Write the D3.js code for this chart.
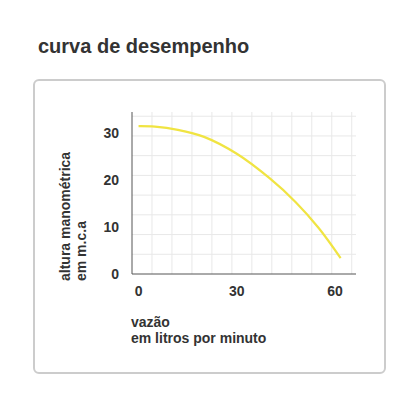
<!DOCTYPE html>
<html><head><meta charset="utf-8">
<script src="https://cdn.jsdelivr.net/npm/d3@7"></script>
<style>body{margin:0;background:#fff;font-family:"Liberation Sans",Arial,sans-serif}</style>
</head><body>
<script>
// curve
const flow = [0, 5, 12, 20, 30, 40, 48, 55, 61.7];
const head = [31.5, 31.4, 30.7, 29.2, 25.6, 20.4, 15.3, 9.8, 3.4];
const xTicks = [0, 30, 60];
const yTicks = [0, 10, 20, 30];
const xGrid = d3.range(-2 + 6.1, 66, 6.1);
const yGrid = d3.range(4.2, 34.6, 4.2);

const svg = d3.select("body").append("svg").attr("width", 420).attr("height", 420);

svg.append("text").attr("x", 38).attr("y", 53)
    .attr("font-size", 20).attr("font-weight", "bold").attr("fill", "#333")
    .text("curva de desempenho");

svg.append("rect").attr("x", 34).attr("y", 80).attr("width", 351).attr("height", 293)
    .attr("rx", 5).attr("fill", "#fff").attr("stroke", "#ccc").attr("stroke-width", 2);

const x = d3.scaleLinear().domain([-2, 66.4]).range([132, 356]);
const y = d3.scaleLinear().domain([0, 34.5]).range([274, 112]);

const g = svg.append("g");
g.selectAll(".gx").data(xGrid).join("line")
    .attr("x1", d => x(d)).attr("x2", d => x(d)).attr("y1", y(0)).attr("y2", y(34.5))
    .attr("stroke", "#e8e8e8");
g.selectAll(".gy").data(yGrid).join("line")
    .attr("x1", x(-2)).attr("x2", x(66.4)).attr("y1", d => y(d)).attr("y2", d => y(d))
    .attr("stroke", "#e8e8e8");

g.append("line").attr("x1", x(-2)).attr("x2", x(-2)).attr("y1", y(0)).attr("y2", y(34.5)).attr("stroke", "#555");
g.append("line").attr("x1", x(-2)).attr("x2", x(66.4)).attr("y1", y(0)).attr("y2", y(0)).attr("stroke", "#555");

g.selectAll(".tx").data(xTicks).join("text")
    .attr("x", d => x(d)).attr("y", 296).attr("text-anchor", "middle")
    .attr("font-size", 14).attr("font-weight", "bold").attr("fill", "#333").text(d => d);
g.selectAll(".ty").data(yTicks).join("text")
    .attr("x", 119).attr("y", d => y(d) + 5).attr("text-anchor", "end")
    .attr("font-size", 14).attr("font-weight", "bold").attr("fill", "#333").text(d => d);

g.append("path").datum(d3.zip(flow, head))
    .attr("d", d3.line().x(d => x(d[0])).y(d => y(d[1])).curve(d3.curveCatmullRom))
    .attr("fill", "none").attr("stroke", "#f0e442").attr("stroke-width", 2.2);

const lab = svg.append("g").attr("font-size", 14).attr("font-weight", "bold").attr("fill", "#333");
lab.append("text").attr("x", 131).attr("y", 327).text("vazão");
lab.append("text").attr("x", 131).attr("y", 343).text("em litros por minuto");
const yl = lab.append("g").attr("transform", "translate(70,281) rotate(-90)");
yl.append("text").attr("x", 0).attr("y", 0).text("altura manométrica");
yl.append("text").attr("x", 0).attr("y", 16).text("em m.c.a");
</script>
</body></html>
